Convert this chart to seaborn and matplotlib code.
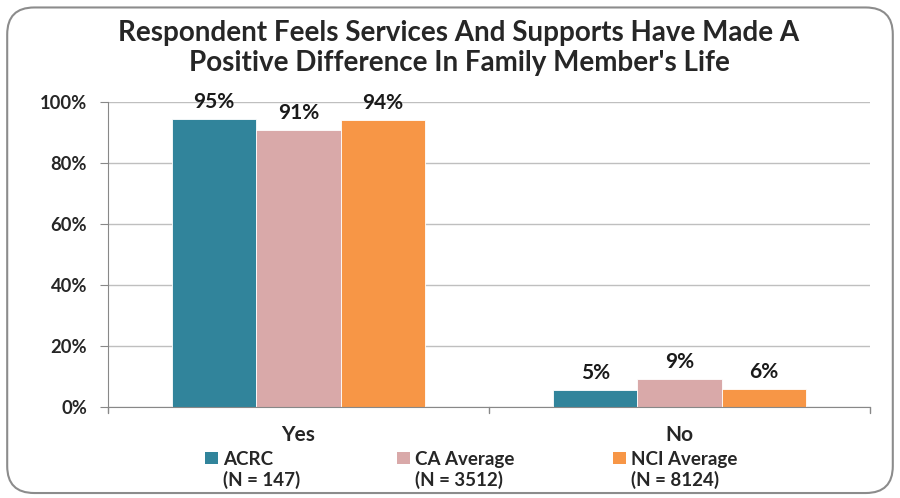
import pandas as pd
import seaborn as sns
import matplotlib.pyplot as plt
from matplotlib.patches import FancyBboxPatch, Patch

answers = ['Yes', 'No']
groups = ['ACRC', 'CA Average', 'NCI Average']
group_n = ['(N = 147)', '(N = 3512)', '(N = 8124)']
acrc = [94.5, 5.5]
ca_avg = [90.9, 9.0]
nci_avg = [94.2, 5.8]
bar_labels = [['95%', '5%'], ['91%', '9%'], ['94%', '6%']]
colors = ['#31849B', '#D9A9A9', '#F79646']

rows = []
for g, vals in zip(groups, [acrc, ca_avg, nci_avg]):
    for a, v in zip(answers, vals):
        rows.append({'Answer': a, 'Group': g, 'Pct': v})
df = pd.DataFrame(rows)

sns.set_style('white')
plt.rcParams['font.family'] = ['Lato', 'DejaVu Sans']

fig = plt.figure(figsize=(9, 4.98), dpi=100)
ax = fig.add_axes([0.12, 0.1833, 0.8467, 0.6113])

sns.barplot(data=df, x='Answer', y='Pct', hue='Group', order=answers,
            hue_order=groups, palette=colors, width=0.664, saturation=1,
            edgecolor='white', linewidth=0.6, legend=False, ax=ax)

for cont, labs in zip(ax.containers, bar_labels):
    ax.bar_label(cont, labels=labs, padding=5, fontsize=15, fontweight='bold',
                 color='#1a1a1a')

ax.set_ylim(0, 100)
ax.set_yticks(range(0, 101, 20))
ax.set_yticklabels([f'{t}%' for t in range(0, 101, 20)], fontsize=13.2,
                   fontweight='bold')
ax.yaxis.grid(True, color='#BFBFBF', linewidth=1)
ax.set_axisbelow(True)
ax.tick_params(axis='y', length=6, color='#888888', direction='out', left=True,
               pad=9)
ax.set_xticks([0, 1])
ax.set_xticklabels(answers, fontsize=15, fontweight='bold')
ax.tick_params(axis='x', length=0, pad=13)
ax.set_xlim(-0.5, 1.5)
for xb in [-0.5, 0.5, 1.5]:
    ax.plot([xb, xb], [0, -2], color='#888888', lw=1, clip_on=False)
ax.set_xlabel('')
ax.set_ylabel('')
for s in ['top', 'right']:
    ax.spines[s].set_visible(False)
ax.spines['left'].set_color('#888888')
ax.spines['bottom'].set_color('#888888')

fig.text(0.51, 0.933, "Respondent Feels Services And Supports Have Made A",
         ha='center', va='center', fontsize=20, fontweight='bold')
fig.text(0.51, 0.873, "Positive Difference In Family Member's Life",
         ha='center', va='center', fontsize=20, fontweight='bold')

# legend: one entry per column, second line placed under the label
leg_x = [205, 397, 613]
legends = []
for c, g, x in zip(colors, groups, leg_x):
    leg = fig.legend([Patch(facecolor=c, edgecolor='none')], [g], loc='center left',
                     bbox_to_anchor=(x / 900, 0.078), frameon=False, borderpad=0,
                     borderaxespad=0, prop={'size': 13.5, 'weight': 'bold'},
                     handlelength=0.7, handleheight=0.55, handletextpad=0.25)
    legends.append(leg)
fig.canvas.draw()
W, H = fig.canvas.get_width_height()
for leg, n in zip(legends, group_n):
    bb = leg.get_texts()[0].get_window_extent()
    fig.text(bb.x0 / W, (bb.y0 + bb.y1) / 2 / H - 21 / H, n, ha='left', va='center',
             fontsize=13.5, fontweight='bold')

frame = FancyBboxPatch((0.008, 0.01), 0.984, 0.975, boxstyle='round,pad=0,rounding_size=0.03',
                       transform=fig.transFigure, facecolor='none',
                       edgecolor='#8C8C8C', linewidth=1.5, mutation_aspect=1.8)
fig.patches.append(frame)

fig.savefig('out.png', dpi=100)
